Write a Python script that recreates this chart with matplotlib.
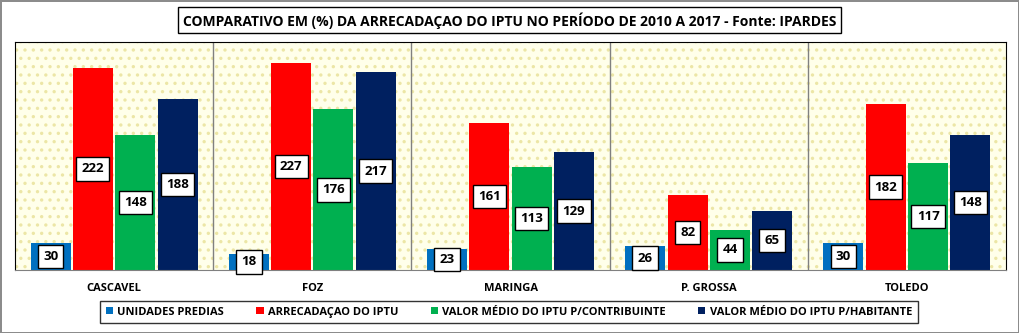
import numpy as np
import matplotlib.pyplot as plt
from matplotlib.patches import Rectangle

plt.rcParams['font.family'] = ['Open Sans', 'DejaVu Sans']
plt.rcParams['hatch.linewidth'] = 1.2

# ---------------------------------------------------------------------------
cidades = ['CASCAVEL', 'FOZ', 'MARINGA', 'P. GROSSA', 'TOLEDO']
series = ['UNIDADES PREDIAS', 'ARRECADAÇAO DO IPTU',
          'VALOR MÉDIO DO IPTU P/CONTRIBUINTE', 'VALOR MÉDIO DO IPTU P/HABITANTE']
unidades = [30, 18, 23, 26, 30]
arrecadacao = [222, 227, 161, 82, 182]
medio_contrib = [148, 176, 113, 44, 117]
medio_hab = [188, 217, 129, 65, 148]
cores = ['#0070C0', '#FF0000', '#00B050', '#002060']
TITULO = 'COMPARATIVO EM (%) DA ARRECADAÇAO DO IPTU NO PERÍODO DE 2010 A 2017 - Fonte: IPARDES'
# ---------------------------------------------------------------------------


def main():
    valores = [unidades, arrecadacao, medio_contrib, medio_hab]
    x = np.arange(len(cidades))
    step, width = 0.2136, 0.202

    fig = plt.figure(figsize=(10.19, 3.33), dpi=100)
    fig.patch.set_edgecolor('#8c8c8c')
    fig.patch.set_linewidth(2)
    ax = fig.add_axes([0.0147, 0.189, 0.9726, 0.685])

    # dotted cream background
    ax.set_facecolor('#FFFFEA')
    ax.add_patch(Rectangle((0, 0), 1, 1, transform=ax.transAxes, facecolor='none',
                           edgecolor='#ECE6A6', hatch='..', lw=0, zorder=0))

    for k, (vals, cor, nome) in enumerate(zip(valores, cores, series)):
        pos = x + (k - 1.5) * step
        ax.bar(pos, vals, width=width, color=cor, label=nome, zorder=2)
        for xp, v in zip(pos, vals):
            ax.text(xp, v / 2, f'{v}', ha='center', va='center', fontsize=9.5,
                    fontweight='bold', zorder=3,
                    bbox=dict(boxstyle='square,pad=0.4', fc='white', ec='black', lw=1))

    for b in x[:-1] + 0.5:
        ax.axvline(b, color='#808080', lw=1, zorder=1)

    ax.set_xlim(-0.5, len(cidades) - 0.5)
    ax.set_ylim(0, 250)
    ax.set_yticks([])
    ax.set_xticks(x)
    ax.set_xticklabels(cidades, fontsize=8, fontweight='bold')
    ax.tick_params(axis='x', length=0, pad=9)
    for s in ('left', 'top', 'right'):
        ax.spines[s].set_color('black')
    ax.spines['bottom'].set_color('#808080')

    fig.text(0.5, 0.939, TITULO, ha='center', va='center', fontsize=10, fontweight='bold',
             bbox=dict(boxstyle='square,pad=0.35', fc='white', ec='black', lw=1))

    leg = fig.legend(loc='center', bbox_to_anchor=(0.4995, 0.063), ncol=4,
                     prop=dict(size=8, weight='bold'), frameon=True, fancybox=False,
                     edgecolor='black', handlelength=0.65, handleheight=0.65,
                     handletextpad=0.4, columnspacing=2.9, borderpad=0.5,
                     borderaxespad=0)
    leg.get_frame().set_linewidth(1)

    fig.savefig('out.png', dpi=100)
    plt.close(fig)


if __name__ == '__main__':
    main()
